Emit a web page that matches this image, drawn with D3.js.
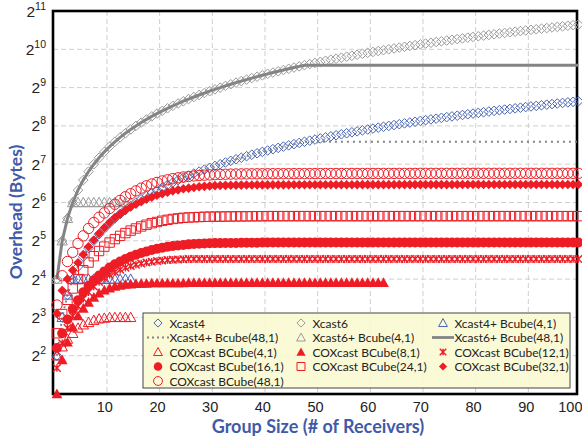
<!DOCTYPE html>
<html>
<head>
<meta charset="utf-8">
<script src="https://cdn.jsdelivr.net/npm/d3@7"></script>
<style>
  body { margin: 0; background: #fff; }
  svg { display: block; font-family: Lato, "Noto Sans", sans-serif; }
</style>
</head>
<body>
<div id="chart"></div>
<script>
// tick labels
const xTicks = [10, 20, 30, 40, 50, 60, 70, 80, 90, 100];
const yExps = [2, 3, 4, 5, 6, 7, 8, 9, 10, 11];

// series values, group size n = 1, 2, 3 ...
const xcast4 = [4,8,12,16,20,24,28,32,36,40, 44,48,52,56,60,64,68,72,76,80, 84,88,92,96,100,104,108,112,116,120,
  124,128,132,136,140,144,148,152,156,160, 164,168,172,176,180,184,188,192,196,200, 204,208,212,216,220,224,228,232,236,240,
  244,248,252,256,260,264,268,272,276,280, 284,288,292,296,300,304,308,312,316,320, 324,328,332,336,340,344,348,352,356,360,
  364,368,372,376,380,384,388,392,396,400];
const xcast6 = [16,32,48,64,80,96,112,128,144,160, 176,192,208,224,240,256,272,288,304,320, 336,352,368,384,400,416,432,448,464,480,
  496,512,528,544,560,576,592,608,624,640, 656,672,688,704,720,736,752,768,784,800, 816,832,848,864,880,896,912,928,944,960,
  976,992,1008,1024,1040,1056,1072,1088,1104,1120, 1136,1152,1168,1184,1200,1216,1232,1248,1264,1280,
  1296,1312,1328,1344,1360,1376,1392,1408,1424,1440, 1456,1472,1488,1504,1520,1536,1552,1568,1584,1600];
const xcast4Bcube4 = [4,8,12,16,16,16,16,16,16,16, 16,16,16,16,16];
const xcast4Bcube48 = [4,8,12,16,20,24,28,32,36,40, 44,48,52,56,60,64,68,72,76,80, 84,88,92,96,100,104,108,112,116,120,
  124,128,132,136,140,144,148,152,156,160, 164,168,172,176,180,184,188,192,192,192,
  192,192,192,192,192,192,192,192,192,192, 192,192,192,192,192,192,192,192,192,192, 192,192,192,192,192,192,192,192,192,192,
  192,192,192,192,192,192,192,192,192,192, 192,192,192,192,192,192,192,192,192,192];
const xcast6Bcube4 = [16,32,48,64,64,64,64,64,64,64, 64,64,64,64,64];
const xcast6Bcube48 = [16,32,48,64,80,96,112,128,144,160, 176,192,208,224,240,256,272,288,304,320, 336,352,368,384,400,416,432,448,464,480,
  496,512,528,544,560,576,592,608,624,640, 656,672,688,704,720,736,752,768,768,768,
  768,768,768,768,768,768,768,768,768,768, 768,768,768,768,768,768,768,768,768,768, 768,768,768,768,768,768,768,768,768,768,
  768,768,768,768,768,768,768,768,768,768, 768,768,768,768,768,768,768,768,768,768];
const cox4 = [4,4.7,5.4,6,6.6,7,7.3,7.6,7.8,7.9, 8,8,8,8,8];
const cox8 = [2,3.7,5.1,6.7,8.2,9.4,10.5,11.5,12.4,13.1, 13.6,14,14.3,14.5,14.6,14.7,14.8,14.8,14.9,14.9,
  14.9,14.9,14.9,14.9,14.9,15,15,15,15,15, 15,15,15,15,15,15,15,15,15,15, 15,15,15,15,15,15,15,15,15,15,
  15,15,15,15,15,15,15,15,15,15, 15,15,15];
const cox12 = [3.2,5,6.6,8.2,9.8,11.2,12.6,14,15.2,16.3, 17.3,18.2,19,19.7,20.3,20.8,21.2,21.6,21.9,22.2,
  22.4,22.6,22.7,22.8,22.9,23,23,23,23,23, 23,23,23,23,23,23,23,23,23,23, 23,23,23,23,23,23,23,23,23,23,
  23,23,23,23,23,23,23,23,23,23, 23,23,23,23,23,23,23,23,23,23, 23,23,23,23,23,23,23,23,23,23,
  23,23,23,23,23,23,23,23,23,23, 23,23,23,23,23,23,23,23,23,23];
const cox16 = [4.6,6,7.7,9.3,10.9,12.6,14.2,15.7,17.1,18.4, 19.7,20.9,22,23,24,24.9,25.7,26.4,27.1,27.7,
  28.2,28.7,29.1,29.4,29.7,30,30.2,30.4,30.5,30.6, 30.7,30.7,30.8,30.8,30.8,30.9,30.9,30.9,30.9,31,
  31,31,31,31,31,31,31,31,31,31, 31,31,31,31,31,31,31,31,31,31, 31,31,31,31,31,31,31,31,31,31,
  31,31,31,31,31,31,31,31,31,31, 31,31,31,31,31,31,31,31,31,31, 31,31,31,31,31,31,31,31,31,31];
const cox24 = [6,8.5,11,13.5,16,18.8,21.6,24.2,26.6,28.8, 31,33,35,36.8,38.5,40,41.5,42.8,44,45,
  46,46.8,47.5,48,48.5,48.8,49,49.2,49.4,49.5, 49.6,49.6,49.7,49.7,49.8,49.8,49.8,49.9,49.9,49.9,
  50,50,50,50,50,50,50,50,50,50, 50,50,50,50,50,50,50,50,50,50, 50,50,50,50,50,50,50,50,50,50,
  50,50,50,50,50,50,50,50,50,50, 50,50,50,50,50,50,50,50,50,50, 50,50,50,50,50,50,50,50,50,50];
const cox32 = [8.6,13,16,18.8,21.5,25,28.7,32.5,36.5,40.5, 44.5,48.5,52,55.5,59,62,65,68,70.5,73,
  75,77,79,80.5,82,83,84,85,85.7,86.3, 86.8,87.1,87.3,87.5,87.6,87.7,87.8,87.9,88,88,
  88,88.1,88.1,88.1,88.1,88.2,88.2,88.2,88.2,88.2, 88.3,88.3,88.3,88.3,88.3,88.3,88.3,88.4,88.4,88.4,
  88.4,88.4,88.4,88.4,88.4,88.5,88.5,88.5,88.5,88.5, 88.5,88.5,88.5,88.5,88.5,88.5,88.6,88.6,88.6,88.6,
  88.6,88.6,88.6,88.6,88.6,88.6,88.6,88.6,88.6,88.6, 88.6,88.6,88.6,88.6,88.6,88.6,88.6,88.6,88.6,88.6];
const cox48 = [10,17,22,26,30.5,35,40,44.5,49,53, 57.5,62,66.5,71,75,79,83,86.5,89.5,92,
  94.5,96.5,98.5,100,101.5,102.5,103.5,104.3,105,105.5, 106,106.4,106.7,107,107.2,107.4,107.5,107.6,107.6,107.7,
  107.7,107.8,107.8,107.8,107.9,107.9,107.9,108,108,108, 108,108.1,108.1,108.1,108.1,108.1,108.2,108.2,108.2,108.2,
  108.2,108.2,108.3,108.3,108.3,108.3,108.3,108.3,108.3,108.4, 108.4,108.4,108.4,108.4,108.4,108.4,108.4,108.5,108.5,108.5,
  108.5,108.5,108.5,108.5,108.5,108.5,108.5,108.5,108.5,108.5, 108.5,108.5,108.5,108.5,108.5,108.5,108.5,108.5,108.5,108.5];

const BLUE = '#4864b2', GREY = '#9a9a9a', LINEGREY = '#848484', RED = '#ee1c25';

const series = [
  { name: 'Xcast4', data: xcast4, shape: 'diamond', r: 4.8, stroke: BLUE },
  { name: 'Xcast6', data: xcast6, shape: 'diamond', r: 4.8, stroke: GREY },
  { name: 'Xcast4+ Bcube(4,1)', data: xcast4Bcube4, shape: 'triangle', r: 5.2, stroke: BLUE },
  { name: 'Xcast4+ Bcube(48,1)', data: xcast4Bcube48, line: 'dotted' },
  { name: 'Xcast6+ Bcube(4,1)', data: xcast6Bcube4, shape: 'triangle', r: 5.2, stroke: GREY },
  { name: 'Xcast6+ Bcube(48,1)', data: xcast6Bcube48, line: 'solid' },
  { name: 'COXcast BCube(4,1)', data: cox4, shape: 'triangle', r: 5.2, stroke: RED },
  { name: 'COXcast BCube(8,1)', data: cox8, shape: 'triangle', r: 5.4, fill: RED },
  { name: 'COXcast BCube(12,1)', data: cox12, shape: 'star', r: 3.8, stroke: RED },
  { name: 'COXcast BCube(16,1)', data: cox16, shape: 'circle', r: 5, fill: RED },
  { name: 'COXcast BCube(24,1)', data: cox24, shape: 'square', r: 4.7, stroke: RED },
  { name: 'COXcast BCube(32,1)', data: cox32, shape: 'diamond', r: 4.8, fill: RED },
  { name: 'COXcast BCube(48,1)', data: cox48, shape: 'circle', r: 5.2, stroke: RED }
];

function markerPath(shape, h) {
  if (shape === 'diamond') return `M0,${-h}L${h},0L0,${h}L${-h},0Z`;
  if (shape === 'triangle') return `M0,${-h}L${h},${h * 0.8}L${-h},${h * 0.8}Z`;
  if (shape === 'square') return `M${-h},${-h}H${h}V${h}H${-h}Z`;
  if (shape === 'star') return `M${-h},${-h}L${h},${h}M${h},${-h}L${-h},${h}M0,${-h}V${h}`;
  return d3.symbol(d3.symbolCircle, Math.PI * h * h)();
}

const W = 582, H = 438;
const plot = { left: 53, right: 577, top: 11, bottom: 394 };

const svg = d3.select('#chart').append('svg')
  .attr('width', W)
  .attr('height', H);

const x = d3.scaleLinear().domain([0.5, 100.5]).range([54.3, 581]);
const y = d3.scaleLog().base(2).domain([2, 2048]).range([plot.bottom, plot.top]);

// grid
svg.append('g').selectAll('line.h')
  .data(yExps.filter(e => e > 1 && e < 11))
  .enter().append('line')
  .attr('x1', plot.left).attr('x2', plot.right)
  .attr('y1', e => y(Math.pow(2, e))).attr('y2', e => y(Math.pow(2, e)))
  .attr('stroke', '#cfcfcf').attr('stroke-dasharray', '5,3');
svg.append('g').selectAll('line.v')
  .data(xTicks.filter(t => t < 100))
  .enter().append('line')
  .attr('x1', t => x(t + 0.5)).attr('x2', t => x(t + 0.5))
  .attr('y1', plot.top).attr('y2', plot.bottom)
  .attr('stroke', '#cfcfcf').attr('stroke-dasharray', '5,3');

// frame
svg.append('rect')
  .attr('x', plot.left).attr('y', plot.top)
  .attr('width', plot.right - plot.left).attr('height', plot.bottom - plot.top)
  .attr('fill', 'none').attr('stroke', '#000').attr('stroke-width', 2.6);

// y axis with 2^k labels
const yAxis = svg.append('g')
  .attr('transform', `translate(${plot.left - 7},0)`)
  .call(d3.axisLeft(y).tickValues(yExps.map(e => Math.pow(2, e))).tickSize(0).tickPadding(0).tickFormat(''));
yAxis.select('.domain').remove();
yAxis.selectAll('.tick text').each(function(d) {
  const t = d3.select(this).attr('dy', null).attr('y', 5).attr('x', 0)
    .attr('fill', '#222').attr('font-size', 15.5);
  t.append('tspan').text('2');
  t.append('tspan').attr('dy', -7).attr('font-size', 10.5).text(Math.round(Math.log2(d)));
});

// x axis
const xAxis = svg.append('g')
  .attr('transform', `translate(0,${plot.bottom})`)
  .call(d3.axisBottom(x).tickValues(xTicks).tickSize(0).tickPadding(8));
xAxis.select('.domain').remove();
xAxis.selectAll('.tick text')
  .attr('fill', '#222').attr('font-size', 14.5).attr('font-family', null)
  .attr('text-anchor', d => d === 100 ? 'end' : 'middle')
  .attr('dx', d => d === 100 ? 582 - x(100) : 0);

// axis titles
svg.append('text')
  .attr('transform', 'translate(22,212) rotate(-90)')
  .attr('text-anchor', 'middle')
  .attr('font-size', 17.5).attr('font-weight', 'bold').attr('fill', '#3f5aa8')
  .text('Overhead (Bytes)');
svg.append('text')
  .attr('x', 318).attr('y', 433)
  .attr('text-anchor', 'middle')
  .attr('font-size', 18).attr('font-weight', 'bold').attr('fill', '#3f5aa8')
  .text('Group Size (# of Receivers)');

// series
const line = d3.line().x((d, i) => x(i + 1)).y(d => y(d));
series.forEach(s => {
  if (s.line) {
    svg.append('path')
      .datum(s.data)
      .attr('d', line)
      .attr('fill', 'none')
      .attr('stroke', LINEGREY)
      .attr('stroke-width', s.line === 'solid' ? 3 : 2)
      .attr('stroke-dasharray', s.line === 'solid' ? null : '2,4');
    return;
  }
  svg.append('g').selectAll('path')
    .data(s.data)
    .enter().append('path')
    .attr('transform', (d, i) => `translate(${x(i + 1)},${y(d)})`)
    .attr('d', markerPath(s.shape, s.r))
    .attr('fill', s.fill || 'none')
    .attr('stroke', s.stroke || 'none')
    .attr('stroke-width', s.shape === 'star' ? 1.4 : 1);
});

// legend
const legCols = [158, 301, 443];
const legRows = [323, 337.5, 352, 366.5, 381];
const legend = svg.append('g');
legend.append('rect')
  .attr('x', 143).attr('y', 313).attr('width', 427).attr('height', 75)
  .attr('fill', '#fbf9d3').attr('fill-opacity', 0.9)
  .attr('stroke', '#444').attr('stroke-width', 1);

const items = legend.selectAll('g.item')
  .data(series)
  .enter().append('g')
  .attr('transform', (s, i) => `translate(${legCols[i % 3]},${legRows[Math.floor(i / 3)]})`);

items.each(function(s) {
  const g = d3.select(this);
  if (s.line) {
    g.append('line')
      .attr('x1', -11).attr('x2', 11).attr('y1', 0).attr('y2', 0)
      .attr('stroke', LINEGREY)
      .attr('stroke-width', s.line === 'solid' ? 2.8 : 2)
      .attr('stroke-dasharray', s.line === 'solid' ? null : '2,3');
  } else {
    g.append('path')
      .attr('d', markerPath(s.shape, s.r * 0.85))
      .attr('fill', s.fill || 'none')
      .attr('stroke', s.stroke || 'none')
      .attr('stroke-width', s.shape === 'star' ? 1.4 : 1);
  }
  g.append('text')
    .attr('x', 11.5).attr('y', 4.5)
    .attr('font-size', 12).attr('fill', '#222')
    .text(s.name);
});
</script>
</body>
</html>
